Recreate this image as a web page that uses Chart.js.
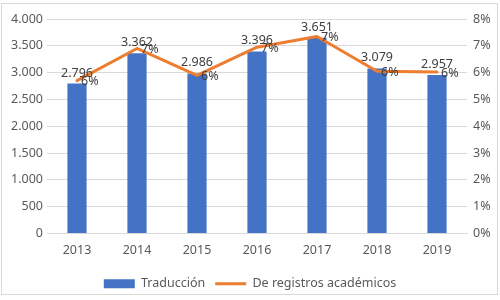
<!DOCTYPE html>
<html>
<head>
<meta charset="utf-8">
<script src="https://cdn.jsdelivr.net/npm/chart.js@4.4.1/dist/chart.umd.min.js"></script>
<style>
  html, body { margin: 0; padding: 0; background: #fff; }
  #caja { width: 500px; height: 300px; }
</style>
</head>
<body>
<div id="caja"><canvas id="grafica" width="500" height="300"></canvas></div>
<script>
// Datos
const anios = ['2013', '2014', '2015', '2016', '2017', '2018', '2019'];
const traduccion = [2796, 3362, 2986, 3396, 3651, 3079, 2957];
const registrosAcademicos = [5.7, 6.9, 5.9, 6.95, 7.35, 6.05, 6.02]; // en %
const etiquetasSeries = ['Traducción', 'De registros académicos'];

// Formato con punto de miles (2.796)
function formatoMiles(n) {
    return String(n).replace(/\B(?=(\d{3})+(?!\d))/g, '.');
}

Chart.defaults.font.family = '"Noto Sans", sans-serif';
Chart.defaults.font.size = 12.5;
Chart.defaults.color = '#595959';

// Marco gris alrededor del gráfico
const marco = {
    id: 'marco',
    beforeDraw(chart) {
        const ctx = chart.ctx;
        ctx.save();
        ctx.fillStyle = '#ffffff';
        ctx.fillRect(0, 0, chart.width, chart.height);
        ctx.strokeStyle = '#d9d9d9';
        ctx.lineWidth = 1;
        ctx.strokeRect(1.5, 3.5, 496, 291);
        ctx.restore();
    }
};

// Etiquetas de datos (valores sobre barras y % junto a la línea)
const etiquetasDatos = {
    id: 'etiquetasDatos',
    afterDatasetsDraw(chart) {
        const ctx = chart.ctx;
        ctx.save();
        ctx.font = '12.5px "Noto Sans", sans-serif';
        ctx.fillStyle = '#404040';

        const barras = chart.getDatasetMeta(0).data;
        ctx.textAlign = 'center';
        ctx.textBaseline = 'alphabetic';
        barras.forEach((barra, i) => {
            ctx.fillText(formatoMiles(traduccion[i]), barra.x, barra.y - 7);
        });

        const puntos = chart.getDatasetMeta(1).data;
        ctx.textAlign = 'left';
        ctx.textBaseline = 'middle';
        puntos.forEach((p, i) => {
            ctx.fillText(Math.round(registrosAcademicos[i]) + '%', p.x + 4, p.y + 1);
        });
        ctx.restore();
    }
};

const ctx = document.getElementById('grafica').getContext('2d');
new Chart(ctx, {
    type: 'bar',
    data: {
        labels: anios,
        datasets: [{
            label: etiquetasSeries[0],
            data: traduccion,
            backgroundColor: '#4472C4',
            borderWidth: 0,
            barPercentage: 0.64,
            categoryPercentage: 0.5,
            yAxisID: 'y',
            pointStyle: 'rect',
            order: 1
        }, {
            type: 'line',
            label: etiquetasSeries[1],
            data: registrosAcademicos,
            borderColor: '#ED7D31',
            backgroundColor: '#ED7D31',
            borderWidth: 3,
            borderCapStyle: 'round',
            borderJoinStyle: 'round',
            pointRadius: 0,
            pointStyle: 'line',
            tension: 0,
            yAxisID: 'y1',
            order: 0
        }]
    },
    options: {
        responsive: false,
        animation: false,
        layout: { padding: { top: 19, left: 0, right: 0, bottom: 0 } },
        plugins: {
            tooltip: { enabled: false },
            legend: {
                position: 'bottom',
                labels: {
                    usePointStyle: true,
                    pointStyleWidth: 31,
                    boxHeight: 9,
                    padding: 10,
                    color: '#595959',
                    sort: (a, b) => a.datasetIndex - b.datasetIndex
                }
            }
        },
        scales: {
            x: {
                grid: { display: false },
                border: { display: true, color: '#d9d9d9' },
                ticks: { padding: 1, color: '#595959' },
                afterFit: eje => { eje.height = eje.height + 9; }
            },
            y: {
                position: 'left',
                min: 0,
                max: 4000,
                ticks: {
                    stepSize: 500,
                    padding: 4,
                    color: '#595959',
                    callback: v => formatoMiles(v)
                },
                grid: { color: '#d9d9d9', drawTicks: false },
                border: { display: false },
                afterFit: eje => { eje.width = 47; }
            },
            y1: {
                position: 'right',
                min: 0,
                max: 8,
                ticks: {
                    stepSize: 1,
                    padding: 6,
                    color: '#595959',
                    callback: v => v + '%'
                },
                grid: { display: false, drawTicks: false },
                border: { display: false },
                afterFit: eje => { eje.width = 33; }
            }
        }
    },
    plugins: [marco, etiquetasDatos]
});
</script>
</body>
</html>
